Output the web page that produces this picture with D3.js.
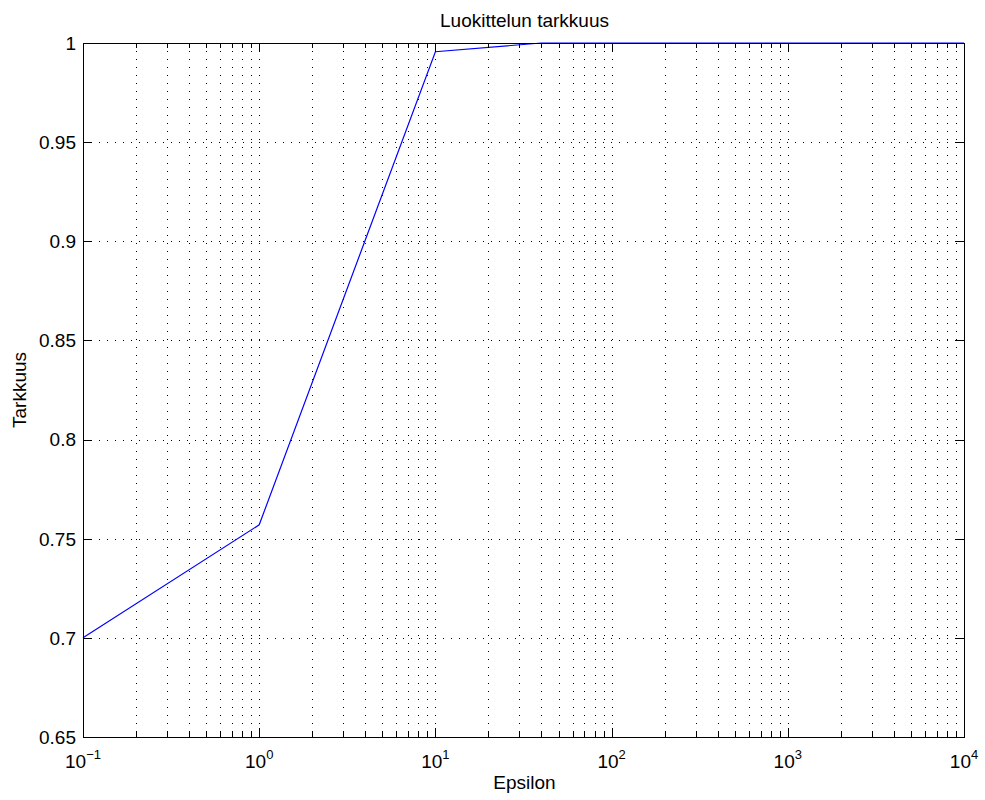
<!DOCTYPE html>
<html>
<head>
<meta charset="utf-8">
<script src="https://cdn.jsdelivr.net/npm/d3@7"></script>
<style>
  body { margin: 0; background: #fff; }
  svg text { font-family: "Liberation Sans", Arial, sans-serif; fill: #000; }
</style>
</head>
<body>
<svg id="chart" width="985" height="800"></svg>
<script>
// data
var epsilon = [0.1, 1, 10, 40, 100, 1000, 10000];
var accuracy = [0.7, 0.757, 0.9956, 1, 1, 1, 1];
var yTicks = [0.65, 0.7, 0.75, 0.8, 0.85, 0.9, 0.95, 1];
var xDecades = [-1, 0, 1, 2, 3, 4];

var margin = {top: 43, right: 21, bottom: 63, left: 83};
var W = 985, H = 800;
var width = W - margin.left - margin.right;
var height = H - margin.top - margin.bottom;
var fs = 19;

var svg = d3.select("#chart");
var g = svg.append("g")
    .attr("transform", "translate(" + margin.left + "," + margin.top + ")");

var x = d3.scaleLog().domain([0.1, 10000]).range([0, width]);
var y = d3.scaleLinear().domain([0.65, 1]).range([height, 0]);

// minor positions 2..9 for each decade
var minor = [];
xDecades.slice(0, -1).forEach(function(d) {
    for (var k = 2; k <= 9; k++) minor.push(k * Math.pow(10, d));
});
var majors = xDecades.map(function(d) { return Math.pow(10, d); });

// grid
var grid = g.append("g").attr("class", "grid")
    .attr("stroke", "#000").attr("stroke-width", 1)
    .attr("stroke-dasharray", "1,7").attr("shape-rendering", "crispEdges");

grid.selectAll("line.vx")
    .data(minor.concat(majors.slice(1, -1)))
    .enter().append("line")
    .attr("class", "vx")
    .attr("x1", function(d) { return Math.round(x(d)) + 0.5; })
    .attr("x2", function(d) { return Math.round(x(d)) + 0.5; })
    .attr("y1", 0).attr("y2", height);

grid.selectAll("line.hy")
    .data(yTicks.slice(1, -1))
    .enter().append("line")
    .attr("class", "hy")
    .attr("y1", function(d) { return Math.round(y(d)) + 0.5; })
    .attr("y2", function(d) { return Math.round(y(d)) + 0.5; })
    .attr("x1", 0).attr("x2", width);

// line
var line = d3.line()
    .x(function(d, i) { return x(epsilon[i]); })
    .y(function(d) { return y(d); });

g.append("path")
    .datum(accuracy)
    .attr("fill", "none")
    .attr("stroke", "#0000ff")
    .attr("stroke-width", 1.2)
    .attr("d", line);

// axes box and ticks
var ax = g.append("g").attr("stroke", "#000").attr("shape-rendering", "crispEdges");

ax.append("rect")
    .attr("x", 0.5).attr("y", 0.5)
    .attr("width", width).attr("height", height)
    .attr("fill", "none").attr("stroke-width", 1.3);

// x ticks, bottom and top, inward
[[height, -1], [0, 1]].forEach(function(side) {
    var y0 = side[0], dir = side[1];
    ax.selectAll(null).data(minor).enter().append("line")
        .attr("x1", function(d) { return Math.round(x(d)) + 0.5; })
        .attr("x2", function(d) { return Math.round(x(d)) + 0.5; })
        .attr("y1", y0).attr("y2", y0 + dir * 5);
    ax.selectAll(null).data(majors).enter().append("line")
        .attr("x1", function(d) { return Math.round(x(d)) + 0.5; })
        .attr("x2", function(d) { return Math.round(x(d)) + 0.5; })
        .attr("y1", y0).attr("y2", y0 + dir * 9);
});

// y ticks, left and right, inward
[[0, 1], [width, -1]].forEach(function(side) {
    var x0 = side[0], dir = side[1];
    ax.selectAll(null).data(yTicks).enter().append("line")
        .attr("y1", function(d) { return Math.round(y(d)) + 0.5; })
        .attr("y2", function(d) { return Math.round(y(d)) + 0.5; })
        .attr("x1", x0).attr("x2", x0 + dir * 9);
});

// y tick labels
g.selectAll("text.ylab")
    .data(yTicks)
    .enter().append("text")
    .attr("class", "ylab")
    .attr("x", -7)
    .attr("y", function(d) { return y(d); })
    .attr("dy", "0.36em")
    .attr("text-anchor", "end")
    .style("font-size", fs + "px")
    .text(function(d) { return d3.format("")(d); });

// x tick labels 10^n
var xl = g.selectAll("text.xlab")
    .data(xDecades)
    .enter().append("text")
    .attr("class", "xlab")
    .attr("x", function(d) { return x(Math.pow(10, d)); })
    .attr("y", height + 31)
    .attr("text-anchor", "middle")
    .style("font-size", fs + "px");
xl.append("tspan").text("10");
xl.append("tspan")
    .attr("dy", -9)
    .style("font-size", "13px")
    .text(function(d) { return d < 0 ? "\u2212" + Math.abs(d) : d; });

// title and axis labels
svg.append("text")
    .attr("x", margin.left + width / 2 + 1)
    .attr("y", 27)
    .attr("text-anchor", "middle")
    .style("font-size", fs + "px")
    .text("Luokittelun tarkkuus");

svg.append("text")
    .attr("x", margin.left + width / 2 + 1)
    .attr("y", 789)
    .attr("text-anchor", "middle")
    .style("font-size", fs + "px")
    .text("Epsilon");

svg.append("text")
    .attr("transform", "translate(26," + (margin.top + height / 2) + ") rotate(-90)")
    .attr("text-anchor", "middle")
    .style("font-size", fs + "px")
    .text("Tarkkuus");
</script>
</body>
</html>
